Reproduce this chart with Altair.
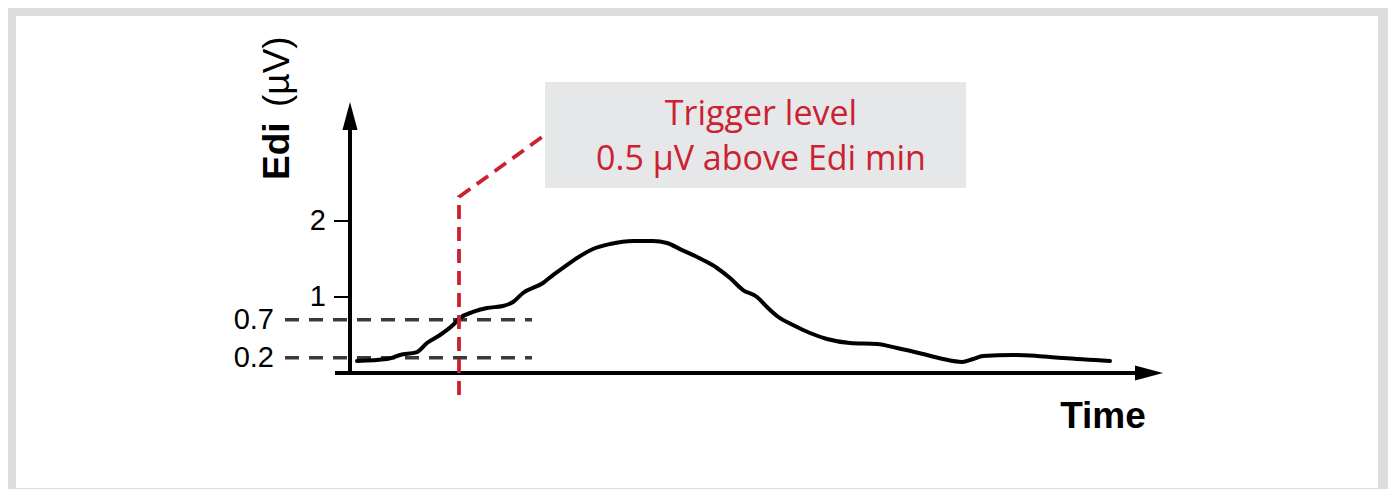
import altair as alt
import pandas as pd

# ---- data (time in arbitrary units, Edi in µV) ----
curve_t = [0.07, 0.37, 0.50, 0.67, 0.77, 0.90, 1.03, 1.10, 1.23, 1.37, 1.53, 1.63,
           1.73, 1.93, 2.03, 2.13, 2.27, 2.43, 2.60, 2.83, 3.03, 3.17, 3.30, 3.53,
           3.67, 3.80, 3.93, 4.07, 4.17, 4.27, 4.43, 4.60, 4.77, 5.00, 5.27, 5.47,
           5.73, 5.93, 6.12, 6.23, 6.33, 6.63, 6.87, 7.13, 7.60]
curve_v = [0.158, 0.184, 0.237, 0.276, 0.395, 0.500, 0.632, 0.724, 0.803, 0.855,
           0.882, 0.934, 1.053, 1.184, 1.289, 1.382, 1.513, 1.632, 1.697, 1.737,
           1.737, 1.711, 1.630, 1.487, 1.382, 1.250, 1.092, 1.000, 0.868, 0.750,
           0.632, 0.526, 0.447, 0.395, 0.382, 0.329, 0.250, 0.184, 0.145, 0.184,
           0.224, 0.237, 0.224, 0.197, 0.158]

tick_values = [1, 2]
tick_labels = ["1", "2"]
level_values = [0.2, 0.7]
level_labels = ["0.2", "0.7"]
level_t_range = [-0.65, 1.82]

trigger_t = [1.09, 1.09, 1.92]
trigger_v = [-0.29, 2.316, 3.105]

box_t = [1.95, 6.16]
box_v = [2.434, 3.829]
box_lines = ["Trigger level", "0.5 µV above Edi min"]
box_line_v = [3.263, 2.671]
box_text_t = 4.11

x_axis_t = [-0.15, 7.90]
y_axis_v = [0.0, 3.355]
x_arrow = (7.99, 0.0)
y_arrow = (0.0, 3.382)
tick_len_t = -0.16

x_title = "Time"
y_title_bold = "Edi"
y_title_unit = "(µV)"

RED = "#cc2131"
GREY_DASH = "#3a3a3a"

xs = alt.Scale(domain=[-3.34, 10.28], nice=False, zero=False)
ys = alt.Scale(domain=[-1.5132, 4.6974], nice=False, zero=False)


def X(f):
    return alt.X(f, scale=xs, axis=None)


def Y(f):
    return alt.Y(f, scale=ys, axis=None)


# trigger box
box_df = pd.DataFrame({"t0": [box_t[0]], "t1": [box_t[1]], "v0": [box_v[0]], "v1": [box_v[1]]})
box = alt.Chart(box_df).mark_rect(color="#e6e7e8").encode(
    x=X("t0:Q"), x2="t1:Q", y=Y("v0:Q"), y2="v1:Q")

box_txt_df = pd.DataFrame({"t": [box_text_t] * 2, "v": box_line_v, "label": box_lines})
box_txt = alt.Chart(box_txt_df).mark_text(
    align="center", baseline="alphabetic", font="Open Sans", fontSize=34, color=RED
).encode(x=X("t:Q"), y=Y("v:Q"), text="label:N")

# dashed level lines
lvl_df = pd.DataFrame({"v": level_values, "t0": [level_t_range[0]] * 2,
                       "t1": [level_t_range[1]] * 2, "label": level_labels})
lvl = alt.Chart(lvl_df).mark_rule(color=GREY_DASH, strokeWidth=3.5, strokeDash=[14, 10]).encode(
    x=X("t0:Q"), x2="t1:Q", y=Y("v:Q"))
lvl_txt = alt.Chart(lvl_df).mark_text(
    align="right", baseline="middle", font="Liberation Sans", fontSize=29, color="black", dx=-11
).encode(x=X("t0:Q"), y=Y("v:Q"), text="label:N")

# axes
xax_df = pd.DataFrame({"t0": [x_axis_t[0]], "t1": [x_axis_t[1]], "v": [0.0]})
xax = alt.Chart(xax_df).mark_rule(color="black", strokeWidth=4).encode(
    x=X("t0:Q"), x2="t1:Q", y=Y("v:Q"))
yax_df = pd.DataFrame({"t": [0.0], "v0": [y_axis_v[0]], "v1": [y_axis_v[1]]})
yax = alt.Chart(yax_df).mark_rule(color="black", strokeWidth=4).encode(
    x=X("t:Q"), y=Y("v0:Q"), y2="v1:Q")

arrow_r = pd.DataFrame({"t": [x_arrow[0]], "v": [x_arrow[1]]})
arr_x = alt.Chart(arrow_r).mark_point(
    shape="M-1,-0.54L1,0L-1,0.54Z", filled=True, size=784, color="black", opacity=1, strokeWidth=0
).encode(x=X("t:Q"), y=Y("v:Q"))
arrow_u = pd.DataFrame({"t": [y_arrow[0]], "v": [y_arrow[1]]})
arr_y = alt.Chart(arrow_u).mark_point(
    shape="M0,-1L0.54,1L-0.54,1Z", filled=True, size=784, color="black", opacity=1, strokeWidth=0
).encode(x=X("t:Q"), y=Y("v:Q"))

tick_df = pd.DataFrame({"v": tick_values, "label": tick_labels,
                        "t0": [tick_len_t] * 2, "t1": [0.0] * 2})
ticks = alt.Chart(tick_df).mark_rule(color="black", strokeWidth=2).encode(
    x=X("t0:Q"), x2="t1:Q", y=Y("v:Q"))
tick_txt = alt.Chart(tick_df).mark_text(
    align="right", baseline="middle", font="Liberation Sans", fontSize=29, color="black", dx=-8
).encode(x=X("t0:Q"), y=Y("v:Q"), text="label:N")

# curve
curve_df = pd.DataFrame({"t": curve_t, "v": curve_v})
curve = alt.Chart(curve_df).mark_line(
    color="black", strokeWidth=4, interpolate="monotone", strokeCap="round", strokeJoin="round"
).encode(x=X("t:Q"), y=Y("v:Q"))

# red trigger dashed path
trig_df = pd.DataFrame({"t": trigger_t, "v": trigger_v, "o": [0, 1, 2]})
trig = alt.Chart(trig_df).mark_line(color=RED, strokeWidth=3.8, strokeDash=[14, 8]).encode(
    x=X("t:Q"), y=Y("v:Q"), order="o:Q")

# titles
xt_df = pd.DataFrame({"t": [7.53], "v": [-0.724], "label": [x_title]})
xt = alt.Chart(xt_df).mark_text(
    align="center", baseline="alphabetic", font="Liberation Sans", fontSize=37,
    fontWeight="bold", color="black"
).encode(x=X("t:Q"), y=Y("v:Q"), text="label:N")

yt_df = pd.DataFrame({"t": [-0.61, -0.61], "v": [2.539, 3.50],
                      "label": [y_title_bold, y_title_unit]})
yt_b = alt.Chart(yt_df.iloc[[0]]).mark_text(
    angle=270, align="left", baseline="alphabetic", font="Liberation Sans", fontSize=37,
    fontWeight="bold", color="black"
).encode(x=X("t:Q"), y=Y("v:Q"), text="label:N")
yt_u = alt.Chart(yt_df.iloc[[1]]).mark_text(
    angle=270, align="left", baseline="alphabetic", font="Liberation Sans", fontSize=37,
    fontWeight="normal", color="black"
).encode(x=X("t:Q"), y=Y("v:Q"), text="label:N")

chart = alt.layer(
    box, box_txt, lvl, lvl_txt, xax, yax, arr_x, arr_y, ticks, tick_txt, curve, trig, xt, yt_b, yt_u
).properties(
    width=1362, height=472, autosize="none",
    padding={"left": 8, "top": 8, "right": 10, "bottom": 1},
    background="#dcdddf",
).configure_view(stroke=None, fill="white")

chart.save("out.html", embed_options={"renderer": "svg", "actions": False})
